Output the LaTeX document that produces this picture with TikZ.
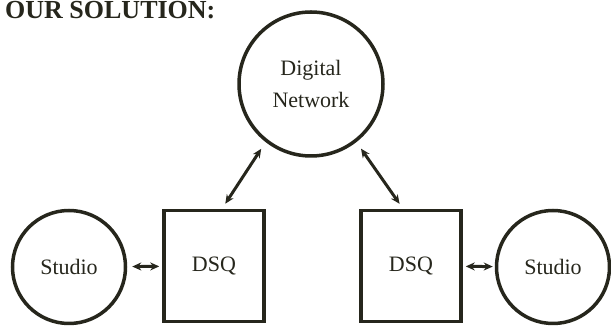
\documentclass[tikz,border=0pt]{standalone}
\usepackage{fontspec}
\setmainfont{Liberation Serif}
\usetikzlibrary{arrows.meta}
\definecolor{ink}{RGB}{38,38,28}
\tikzset{
  unit/.style={draw=ink, line width=3.5pt, text=ink, font=\fontsize{22}{32}\selectfont, align=center},
  hub/.style={unit, circle, minimum size=144pt},
  studio/.style={unit, circle, minimum size=113pt},
  dsq/.style={unit, rectangle, minimum width=100pt, minimum height=111pt},
  link/.style={draw=ink, line width=3pt, {Stealth[length=9pt,width=8pt]}-{Stealth[length=9pt,width=8pt]}}
}
\begin{document}
\begin{tikzpicture}[x=1pt, y=1pt]
        \useasboundingbox (0,0) rectangle (611,326);

        % Heading
        \node[anchor=base west, inner sep=0pt, text=ink, font=\fontsize{26}{28}\selectfont\bfseries] (title) at (5, 307) {OUR SOLUTION:};

        % Network on top
        \node[hub] (net) at (311, 242) {Digital\\Network};

        % Bottom row
        \node[studio] (studioL) at (69, 59) {Studio};
        \node[dsq] (dsqL) at (214, 60) {DSQ};
        \node[dsq] (dsqR) at (411, 60) {DSQ};
        \node[studio] (studioR) at (553, 59) {Studio};

        % Links to the network
        \draw[link, shorten <=8pt, shorten >=6pt] (net.232) -- ([xshift=8pt]dsqL.north);
        \draw[link, shorten <=8pt, shorten >=6pt] (net.308) -- ([xshift=-8pt]dsqR.north);

        % Links to the studios
        \draw[link, shorten <=5pt, shorten >=3pt] (studioL) -- (dsqL);
        \draw[link, shorten <=3pt, shorten >=2pt] (dsqR) -- (studioR);
    \end{tikzpicture}
\end{document}
